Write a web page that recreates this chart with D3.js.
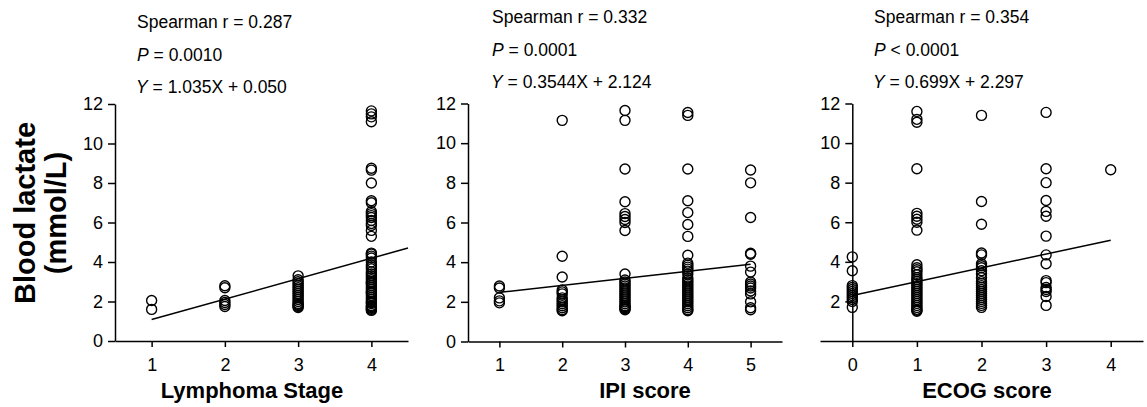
<!DOCTYPE html>
<html lang="en">
<head>
  <meta charset="UTF-8">
  <title>Blood lactate vs clinical scores</title>
  <script src="https://d3js.org/d3.v7.min.js"></script>
  <style>
    body {
      margin: 0;
      background: #fff;
      font-family: "Liberation Sans", Arial, sans-serif;
    }
    .axis path, .axis line {
      stroke: #000;
      stroke-width: 1.5;
    }
    .axis text {
      font-size: 18px;
      fill: #000;
      font-family: "Liberation Sans", Arial, sans-serif;
    }
    .dot {
      fill: none;
      stroke: #000;
      stroke-width: 1.4;
    }
    .fit {
      stroke: #000;
      stroke-width: 1.5;
      fill: none;
    }
    .note {
      font-size: 17.5px;
      fill: #000;
    }
    .title {
      font-size: 22px;
      font-weight: bold;
      fill: #000;
    }
  </style>
</head>
<body>
  <svg width="1147" height="407"></svg>
  <script>
    // blood lactate (mmol/L) per group
    const stageCats = [1, 2, 3, 4];
    const stageValues = [
      [2.05, 1.6],
      [2.8, 2.7, 2.05, 1.95, 1.85, 1.75],
      [3.3, 3.1, 3.0, 2.9, 2.8, 2.7, 2.6, 2.5, 2.4, 2.3, 2.2, 2.1, 2.0, 1.9, 1.85, 1.8, 1.75, 1.7],
      [11.65, 11.5, 11.35, 11.1, 8.75, 8.65, 8.0, 7.1, 7.0, 6.55, 6.45, 6.35, 6.25, 6.1, 5.95, 5.85, 5.6, 5.3,
       4.45, 4.4, 4.3, 4.2, 4.0, 3.85, 3.75, 3.65, 3.5, 3.4, 3.3, 3.2, 3.1, 3.0, 2.95, 2.9, 2.8, 2.7, 2.6,
       2.5, 2.45, 2.4, 2.3, 2.2, 2.1, 2.0, 1.95, 1.9, 1.8, 1.75, 1.7, 1.65, 1.6, 1.55]
    ];

    const ipiCats = [1, 2, 3, 4, 5];
    const ipiValues = [
      [2.8, 2.7, 2.2, 2.05, 1.95],
      [11.15, 4.3, 3.25, 2.6, 2.5, 2.4, 2.2, 2.1, 2.0, 1.9, 1.8, 1.7, 1.6, 1.55],
      [11.65, 11.15, 8.7, 7.05, 6.45, 6.3, 6.15, 6.0, 5.6, 3.4, 3.1, 3.0, 2.9, 2.8, 2.7, 2.6, 2.5, 2.4,
       2.3, 2.2, 2.1, 2.0, 1.9, 1.8, 1.75, 1.7, 1.65, 1.6],
      [11.55, 11.4, 8.7, 7.1, 6.5, 5.9, 5.3, 4.35, 3.95, 3.85, 3.75, 3.65, 3.55, 3.4, 3.2, 3.1, 3.0, 2.9,
       2.8, 2.7, 2.6, 2.5, 2.4, 2.3, 2.2, 2.1, 2.0, 1.9, 1.8, 1.7, 1.6, 1.55],
      [8.65, 8.0, 6.25, 4.45, 4.4, 3.8, 3.5, 3.0, 2.9, 2.8, 2.7, 2.55, 2.4, 2.0, 1.7, 1.6]
    ];

    const ecogCats = [0, 1, 2, 3, 4];
    const ecogValues = [
      [4.25, 3.55, 2.8, 2.7, 2.6, 2.5, 2.4, 2.3, 2.2, 2.1, 2.0, 1.7],
      [11.6, 11.2, 11.05, 8.7, 6.45, 6.3, 6.15, 6.0, 5.6, 3.85, 3.7, 3.6, 3.5, 3.35, 3.2, 3.1, 3.0, 2.9,
       2.8, 2.7, 2.6, 2.5, 2.4, 2.3, 2.2, 2.1, 2.0, 1.9, 1.8, 1.7, 1.6, 1.55, 1.5],
      [11.4, 7.05, 5.9, 4.45, 4.35, 3.9, 3.8, 3.7, 3.55, 3.4, 3.2, 3.0, 2.9, 2.8, 2.7, 2.6, 2.5, 2.4,
       2.3, 2.2, 2.1, 2.0, 1.9, 1.8, 1.7],
      [11.55, 8.7, 8.0, 7.1, 6.55, 6.3, 5.3, 4.35, 3.9, 3.05, 2.95, 2.7, 2.6, 2.5, 2.25, 1.8],
      [8.65]
    ];

    const yTicks = [0, 2, 4, 6, 8, 10, 12];
    const axisTitles = ["Lymphoma Stage", "IPI score", "ECOG score"];
    const rTexts = ["Spearman r = 0.287", "Spearman r = 0.332", "Spearman r = 0.354"];
    const pTexts = [" = 0.0010", " = 0.0001", " < 0.0001"];
    const fitTexts = [" = 1.035X + 0.050", " = 0.3544X + 2.124", " = 0.699X + 2.297"];
    const slopes = [1.035, 0.3544, 0.699];
    const intercepts = [0.050, 2.124, 2.297];
    const fitRanges = [[1, 4.5], [1, 5], [0, 4]];

    const svg = d3.select("svg");

    const panels = [
      {cats: stageCats, vals: stageValues, xDom: [0.5, 4.5], xr: [115, 408], yr: [341, 104], yAt: 0.5,
       yTicks: yTicks, noteX: 137, noteY: 28, titleX: 252},
      {cats: ipiCats, vals: ipiValues, xDom: [0.5, 5.5], xr: [468, 782], yr: [341.5, 103.5], yAt: 0.5,
       yTicks: yTicks, noteX: 492, noteY: 23, titleX: 645},
      {cats: ecogCats, vals: ecogValues, xDom: [-0.5, 4.5], xr: [820, 1143], yr: [341, 103.5], yAt: 0,
       yTicks: yTicks.slice(1), noteX: 874, noteY: 23, titleX: 987}
    ];

    panels.forEach((p, i) => {
      const x = d3.scaleLinear().domain(p.xDom).range(p.xr);
      const y = d3.scaleLinear().domain([0, 12]).range(p.yr);
      const g = svg.append("g");

      g.append("g")
        .attr("class", "axis")
        .attr("transform", `translate(0,${y(0)})`)
        .call(d3.axisBottom(x).tickValues(p.cats).tickFormat(d3.format("d"))
          .tickSize(6).tickSizeOuter(0).tickPadding(11));

      g.append("g")
        .attr("class", "axis")
        .attr("transform", `translate(${x(p.yAt)},0)`)
        .call(d3.axisLeft(y).tickValues(p.yTicks).tickFormat(d3.format("d"))
          .tickSize(7).tickSizeOuter(0).tickPadding(5));

      // fitted line
      const fr = fitRanges[i];
      g.append("line")
        .attr("class", "fit")
        .attr("x1", x(fr[0])).attr("y1", y(slopes[i] * fr[0] + intercepts[i]))
        .attr("x2", x(fr[1])).attr("y2", y(slopes[i] * fr[1] + intercepts[i]));

      const pts = p.cats.flatMap((c, k) => p.vals[k].map(v => ({c: c, v: v})));
      g.selectAll(".dot")
        .data(pts)
        .enter()
        .append("circle")
        .attr("class", "dot")
        .attr("cx", d => x(d.c))
        .attr("cy", d => y(d.v))
        .attr("r", 5);

      // stats text
      g.append("text").attr("class", "note")
        .attr("x", p.noteX).attr("y", p.noteY).text(rTexts[i]);
      const t2 = g.append("text").attr("class", "note")
        .attr("x", p.noteX).attr("y", p.noteY + 33);
      t2.append("tspan").style("font-style", "italic").text("P");
      t2.append("tspan").text(pTexts[i]);
      const t3 = g.append("text").attr("class", "note")
        .attr("x", p.noteX - 1).attr("y", p.noteY + 65);
      t3.append("tspan").style("font-style", "italic").text("Y");
      t3.append("tspan").text(fitTexts[i]);

      g.append("text").attr("class", "title")
        .attr("x", p.titleX).attr("y", 398)
        .attr("text-anchor", "middle")
        .text(axisTitles[i]);
    });

    const yLab = svg.append("text")
      .attr("transform", "translate(35,213) rotate(-90)")
      .attr("text-anchor", "middle")
      .style("font-size", "29px")
      .style("font-weight", "bold");
    yLab.append("tspan").attr("x", 0).attr("y", 0).text("Blood lactate");
    yLab.append("tspan").attr("x", 0).attr("y", 31).text("(mmol/L)");
  </script>
</body>
</html>
